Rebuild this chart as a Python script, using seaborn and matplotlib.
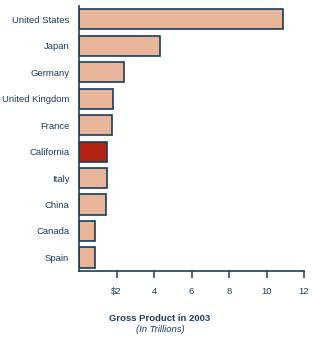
import matplotlib
matplotlib.use("Agg")
import matplotlib.pyplot as plt
import seaborn as sns

countries = ["United States", "Japan", "Germany", "United Kingdom", "France",
             "California", "Italy", "China", "Canada", "Spain"]
gdp = [10.9, 4.3, 2.4, 1.8, 1.75, 1.47, 1.47, 1.42, 0.85, 0.85]
xticks = [2, 4, 6, 8, 10, 12]
xtick_labels = ["$2", "4", "6", "8", "10", "12"]

navy = "#173d5e"
fill = "#e8b59b"
highlight = "#b32315"
palette = {c: (highlight if c == "California" else fill) for c in countries}

sns.set_style("white")
plt.rcParams["font.family"] = ["Liberation Sans", "DejaVu Sans"]

fig = plt.figure(figsize=(3.22, 3.44), dpi=100)
ax = fig.add_axes([79 / 322, 1 - 270.7 / 344, (304 - 79) / 322, (270.7 - 6) / 344])

sns.barplot(x=gdp, y=countries, hue=countries, palette=palette, legend=False,
            orient="h", width=0.76, edgecolor=navy, linewidth=1.2,
            saturation=1, ax=ax)

ax.set_xlim(0, 12)
ax.set_ylim(9.5, -0.5)
ax.set_xticks(xticks)
ax.set_xticklabels(xtick_labels)
ax.tick_params(axis="x", direction="out", length=5, width=1.1, color=navy,
               labelsize=6.8, labelcolor=navy, pad=7, bottom=True)
ax.tick_params(axis="y", length=0, labelsize=6.8, labelcolor=navy, pad=7)
for s in ["top", "right"]:
    ax.spines[s].set_visible(False)
for s in ["left", "bottom"]:
    ax.spines[s].set_color(navy)
    ax.spines[s].set_linewidth(1.2)
ax.set_xlabel("")
ax.set_ylabel("")

fig.text(160 / 322, 1 - 318.5 / 344, "Gross Product in 2003", ha="center", va="center",
         fontsize=6.8, fontweight="bold", color=navy)
fig.text(160 / 322, 1 - 329 / 344, "(In Trillions)", ha="center", va="center",
         fontsize=6.8, fontstyle="italic", color=navy)

fig.savefig("out.png", dpi=100)
